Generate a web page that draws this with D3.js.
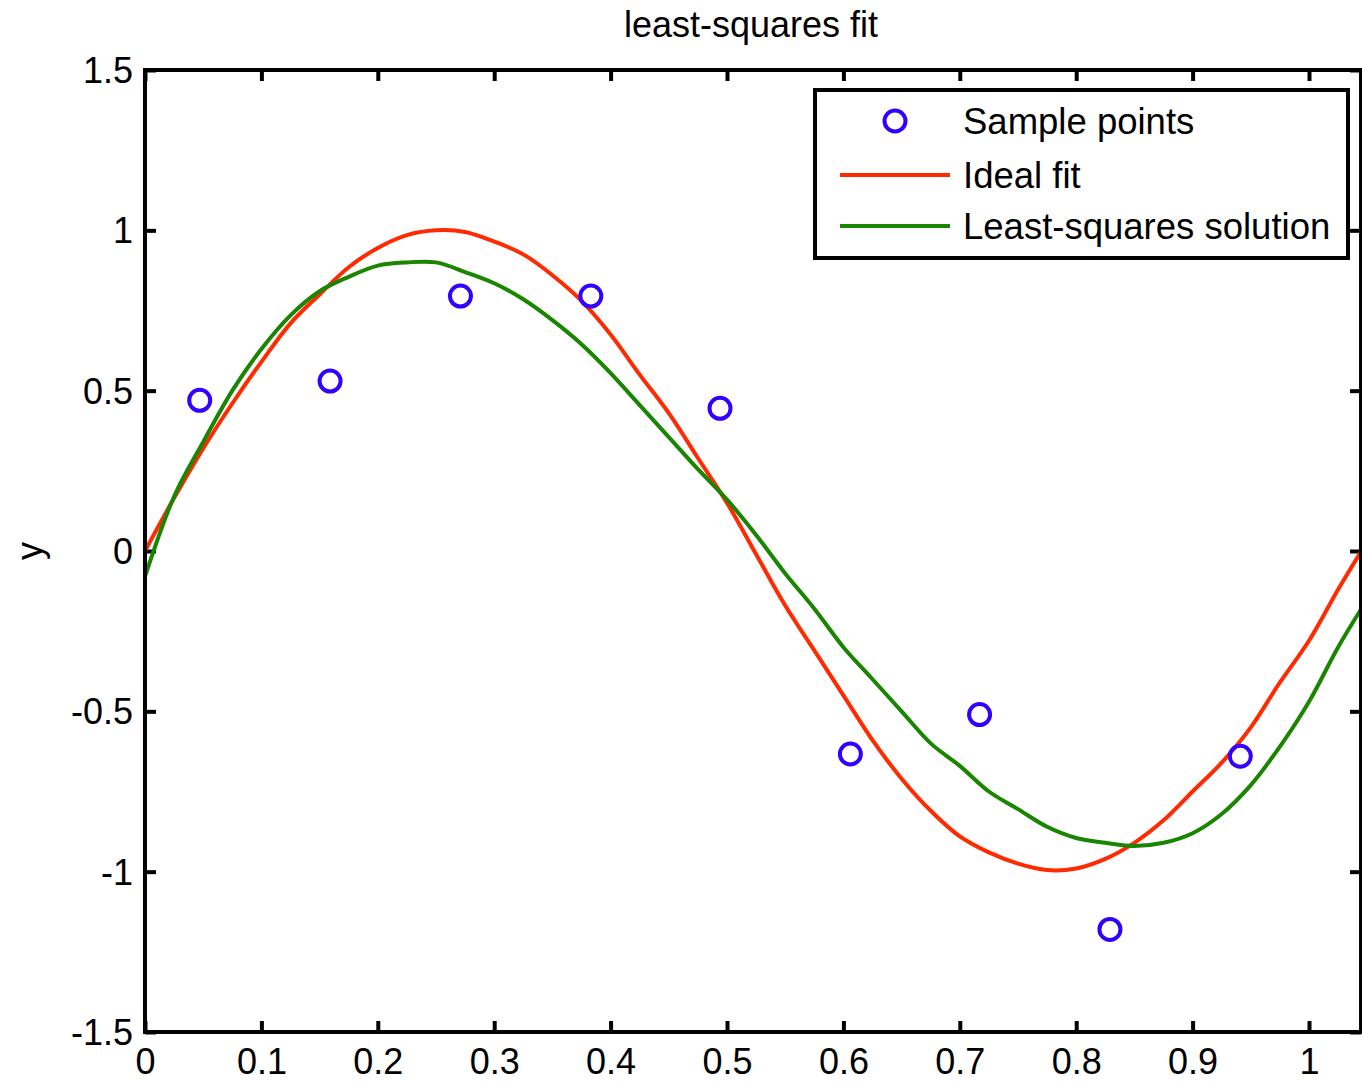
<!DOCTYPE html>
<html>
<head>
<meta charset="utf-8">
<script src="https://cdn.jsdelivr.net/npm/d3@7"></script>
<style>
  html, body { margin: 0; padding: 0; background: #fff; }
  svg { display: block; }
  text { font-family: "Liberation Sans", Arial, Helvetica, sans-serif; fill: #000; }
</style>
</head>
<body>
<svg id="chart" width="1362" height="1082"></svg>
<script>
// Noisy sample points
const sampleX = [0.047, 0.159, 0.271, 0.383, 0.494, 0.606, 0.717, 0.829, 0.941];
const sampleY = [0.47, 0.53, 0.795, 0.795, 0.445, -0.633, -0.51, -1.18, -0.64];

// Curve abscissae shared by both fitted curves
const curveX = [0, 0.025, 0.05, 0.075, 0.1, 0.125, 0.15, 0.175, 0.2, 0.225, 0.25, 0.275,
  0.3, 0.325, 0.35, 0.375, 0.4, 0.425, 0.45, 0.475, 0.5, 0.525, 0.55, 0.575, 0.6, 0.625,
  0.65, 0.675, 0.7, 0.725, 0.75, 0.775, 0.8, 0.825, 0.85, 0.875, 0.9, 0.925, 0.95, 0.975,
  1.0, 1.025, 1.045];

// Ideal fit
const idealY = [0.00, 0.165, 0.32, 0.46, 0.59, 0.71, 0.80, 0.885, 0.945, 0.985, 1.00, 0.995,
  0.965, 0.925, 0.86, 0.78, 0.675, 0.55, 0.43, 0.29, 0.15, -0.01, -0.17, -0.31, -0.45, -0.59,
  -0.71, -0.81, -0.89, -0.94, -0.975, -0.995, -0.99, -0.96, -0.91, -0.84, -0.75, -0.66, -0.55,
  -0.41, -0.28, -0.12, 0.00];

// Least-squares solution
const lsqY = [-0.08, 0.17, 0.34, 0.50, 0.63, 0.735, 0.81, 0.855, 0.89, 0.90, 0.90, 0.87,
  0.835, 0.785, 0.72, 0.645, 0.555, 0.455, 0.355, 0.255, 0.16, 0.05, -0.07, -0.18, -0.30, -0.40,
  -0.50, -0.60, -0.67, -0.75, -0.805, -0.86, -0.895, -0.91, -0.92, -0.91, -0.88, -0.82, -0.73,
  -0.61, -0.47, -0.30, -0.18];

const xTicks = [0, 0.1, 0.2, 0.3, 0.4, 0.5, 0.6, 0.7, 0.8, 0.9, 1];
const yTicks = [-1.5, -1, -0.5, 0, 0.5, 1, 1.5];

const legendLabels = ["Sample points", "Ideal fit", "Least-squares solution"];
const titleText = "least-squares fit";
const yLabelText = "y";

const colors = { sample: "#3300ff", ideal: "#ff2a00", lsq: "#1a8500" };

const svg = d3.select("#chart");
const plotLeft = 145, plotTop = 70, plotBottom = 1032;
const xMax = 1.0447;
const x = d3.scaleLinear().domain([0, xMax]).range([plotLeft, plotLeft + 1164 * xMax]);
const y = d3.scaleLinear().domain([-1.5, 1.5]).range([plotBottom, plotTop]);
const plotRight = x(xMax);

const fmt = v => String(v);

svg.append("defs").append("clipPath").attr("id", "plotClip")
  .append("rect").attr("x", plotLeft).attr("y", plotTop)
  .attr("width", plotRight - plotLeft).attr("height", plotBottom - plotTop);

// Title and axis label
svg.append("text").attr("x", 751).attr("y", 37).attr("text-anchor", "middle")
  .style("font-size", "36px").text(titleText);
svg.append("text").attr("transform", `translate(42,551) rotate(-90)`)
  .attr("text-anchor", "middle").style("font-size", "36px").text(yLabelText);

// Axes: ticks point inward on all four sides
const tickLen = 11;
const xAxisB = d3.axisBottom(x).tickValues(xTicks).tickSize(-tickLen).tickPadding(16).tickFormat(fmt);
const yAxisL = d3.axisLeft(y).tickValues(yTicks).tickSize(-tickLen).tickPadding(12).tickFormat(fmt);
const xAxisT = d3.axisTop(x).tickValues(xTicks).tickSize(-tickLen).tickFormat("");
const yAxisR = d3.axisRight(y).tickValues(yTicks).tickSize(-tickLen).tickFormat("");

function styleAxis(g) {
  g.select(".domain").remove();
  g.selectAll(".tick line").attr("stroke", "#000").attr("stroke-width", 4);
  g.selectAll(".tick text").style("font-size", "36px").attr("fill", "#000");
}
svg.append("g").attr("transform", `translate(0,${plotBottom})`).call(xAxisB).call(styleAxis)
  .selectAll(".tick text").attr("dy", "0.71em");
svg.append("g").attr("transform", `translate(${plotLeft},0)`).call(yAxisL).call(styleAxis)
  .selectAll(".tick text").attr("dy", "0.35em");
svg.append("g").attr("transform", `translate(0,${plotTop})`).call(xAxisT).call(styleAxis);
svg.append("g").attr("transform", `translate(${plotRight},0)`).call(yAxisR).call(styleAxis);

// Curves
const plot = svg.append("g").attr("clip-path", "url(#plotClip)");
const line = d3.line().x(d => x(d[0])).y(d => y(d[1])).curve(d3.curveCatmullRom.alpha(0.5));
plot.append("path").datum(curveX.map((v, i) => [v, idealY[i]]))
  .attr("d", line).attr("fill", "none").attr("stroke", colors.ideal)
  .attr("stroke-width", 4).attr("stroke-linejoin", "round");
plot.append("path").datum(curveX.map((v, i) => [v, lsqY[i]]))
  .attr("d", line).attr("fill", "none").attr("stroke", colors.lsq)
  .attr("stroke-width", 4).attr("stroke-linejoin", "round");

// Sample markers
plot.selectAll("circle.sample").data(sampleX.map((v, i) => [v, sampleY[i]]))
  .join("circle").attr("class", "sample")
  .attr("cx", d => x(d[0])).attr("cy", d => y(d[1])).attr("r", 10.5)
  .attr("fill", "none").attr("stroke", colors.sample).attr("stroke-width", 4);

// Plot frame
svg.append("rect").attr("x", plotLeft).attr("y", plotTop)
  .attr("width", plotRight - plotLeft).attr("height", plotBottom - plotTop)
  .attr("fill", "none").attr("stroke", "#000").attr("stroke-width", 4);

// Legend
const lg = svg.append("g");
lg.append("rect").attr("x", 815).attr("y", 90).attr("width", 533).attr("height", 168)
  .attr("fill", "#fff").attr("stroke", "#000").attr("stroke-width", 4);
const rowY = [121, 175, 226];
lg.append("circle").attr("cx", 895).attr("cy", rowY[0]).attr("r", 10.5)
  .attr("fill", "none").attr("stroke", colors.sample).attr("stroke-width", 4);
lg.append("line").attr("x1", 840).attr("x2", 950).attr("y1", rowY[1]).attr("y2", rowY[1])
  .attr("stroke", colors.ideal).attr("stroke-width", 4);
lg.append("line").attr("x1", 840).attr("x2", 950).attr("y1", rowY[2]).attr("y2", rowY[2])
  .attr("stroke", colors.lsq).attr("stroke-width", 4);
lg.selectAll("text.lab").data(legendLabels).join("text").attr("class", "lab")
  .attr("x", 963).attr("y", (d, i) => rowY[i]).attr("dy", "0.36em")
  .style("font-size", "36.5px").text(d => d);
</script>
</body>
</html>
